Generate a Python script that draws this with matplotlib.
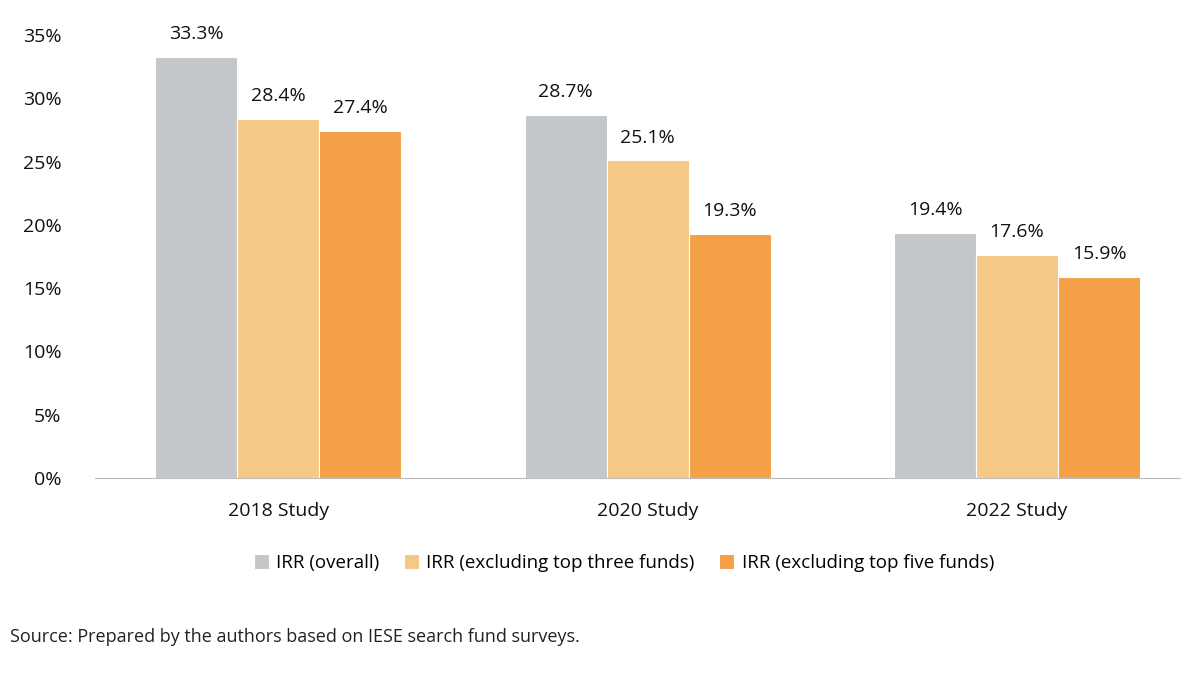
import matplotlib
matplotlib.use("Agg")
import matplotlib.pyplot as plt
import numpy as np

plt.rcParams['font.family'] = ['Open Sans', 'DejaVu Sans']

studies = ["2018 Study", "2020 Study", "2022 Study"]
series_names = ["IRR (overall)", "IRR (excluding top three funds)", "IRR (excluding top five funds)"]
overall = [33.3, 28.7, 19.4]
excl_three = [28.4, 25.1, 17.6]
excl_five = [27.4, 19.3, 15.9]
colors = ["#C3C7C9", "#F5C885", "#F4A047"]

fig = plt.figure(figsize=(12, 6.77), dpi=100)
ax = fig.add_axes([0.079, 0.294, 0.904, 0.654])
x = np.arange(len(studies))
w = 0.222
for i, (vals, name, c) in enumerate(zip([overall, excl_three, excl_five], series_names, colors)):
    bars = ax.bar(x + (i - 1) * w, vals, w, color=c, label=name, edgecolor='white', linewidth=0.8)
    for b, v in zip(bars, vals):
        ax.text(b.get_x() + b.get_width() / 2, v + 1.1, f"{v:.1f}%", ha='center', va='bottom',
                fontsize=14, color='#111111')

ax.set_ylim(0, 35)
ax.set_xlim(-0.496, 2.44)
ax.set_yticks(range(0, 36, 5))
ax.set_yticklabels([f"{t}%" for t in range(0, 36, 5)], fontsize=14, color='#111111')
ax.set_xticks(x)
ax.set_xticklabels(studies, fontsize=14, color='#111111')
ax.tick_params(axis='x', length=0, pad=17)
ax.tick_params(axis='y', length=0, pad=24)
for s in ['top', 'right', 'left']:
    ax.spines[s].set_visible(False)
ax.spines['bottom'].set_color('#BBBBBB')

fig.legend(loc='center', bbox_to_anchor=(0.52, 1 - 563 / 677), ncol=3, frameon=False,
           fontsize=13.5, handlelength=0.8, handleheight=0.8, columnspacing=1.3, handletextpad=0.4)
fig.text(0.008, 1 - 637 / 677, "Source: Prepared by the authors based on IESE search fund surveys.",
         fontsize=13, va='center', color='#222222')
fig.savefig("out.png", dpi=100)
